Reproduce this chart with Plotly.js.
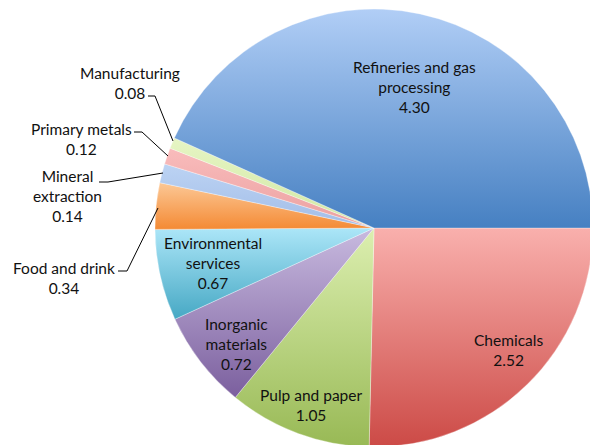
<!DOCTYPE html>
<html>
<head>
<meta charset="utf-8">
<script src="https://cdn.plot.ly/plotly-3.0.1.min.js"></script>
<style>
  html, body { margin: 0; padding: 0; overflow: hidden; background: #fff; }
  #chart { width: 600px; height: 460px; }
</style>
</head>
<body>
<div id="chart"></div>
<script>
// ---- data ----
var categories = ["Chemicals", "Pulp and paper", "Inorganic materials", "Environmental services",
                  "Food and drink", "Mineral extraction", "Primary metals", "Manufacturing",
                  "Refineries and gas processing"];
var values = [2.52, 1.05, 0.72, 0.67, 0.34, 0.14, 0.12, 0.08, 4.30];
var displayLabels = ["Chemicals", "Pulp and paper", "Inorganic<br>materials", "Environmental<br>services",
                     "Food and drink", "Mineral<br>extraction", "Primary metals", "Manufacturing",
                     "Refineries and gas<br>processing"];

// ---- styles ----
var gradTop = ["#f9b0ad", "#dcefb0", "#c8badf", "#ace6f8", "#fcc896", "#bcd3f3", "#f9bcbc", "#e6f5c4", "#b1cef6"];
var gradBot = ["#cc4a46", "#98b955", "#7b5f9e", "#46a8c4", "#f48a34", "#a2bde8", "#eba0a0", "#d2e8a4", "#4680c2"];
var flat    = ["#e57d7a", "#bad583", "#a18dbf", "#79c7de", "#f8a965", "#b0c9ef", "#f3b0b0", "#dcefb4", "#7ca7dc"];

var W = 600, H = 460;
var M = {l: 155, r: 7, t: 9, b: 13};
var PW = W - M.l - M.r, PH = H - M.t - M.b;
function px(x) { return (x - M.l) / PW; }
function py(y) { return 1 - (y - M.t) / PH; }

// label positions in pixels (centre of text block)
var labelPos = [[508, 350], [311, 405], [236, 344], [213, 263], [64, 278], [67, 196], [81, 139], [130, 83], [414, 87]];
// leader lines (pixel polylines) for outside labels
var leaders = {
  4: [[118, 271], [127, 271], [158, 208]],
  5: [[99, 182], [108, 182], [163, 173]],
  6: [[134, 132], [142, 132], [168, 156]],
  7: [[148, 96], [155, 96], [173, 141]]
};

var annotations = categories.map(function (c, i) {
  return {
    xref: "paper", yref: "paper",
    x: px(labelPos[i][0]), y: py(labelPos[i][1]),
    xanchor: "center", yanchor: "middle",
    text: displayLabels[i] + "<br>" + values[i].toFixed(2),
    showarrow: false, align: "center",
    font: {family: "Lato, 'Open Sans', sans-serif", size: 15.5, color: "#111"}
  };
});

var shapes = Object.keys(leaders).map(function (k) {
  var pts = leaders[k];
  var d = pts.map(function (p, j) { return (j ? "L" : "M") + px(p[0]) + "," + py(p[1]); }).join(" ");
  return {type: "path", xref: "paper", yref: "paper", path: d, line: {color: "#000", width: 1}};
});

var trace = {
  type: "pie",
  labels: categories,
  values: values,
  sort: false,
  direction: "clockwise",
  rotation: 90,
  textinfo: "none",
  hoverinfo: "label+value",
  marker: {colors: flat, line: {color: "rgba(255,255,255,0.55)", width: 0.6}},
  showlegend: false
};

var layout = {
  width: W, height: H,
  margin: M,
  paper_bgcolor: "#fff",
  showlegend: false,
  annotations: annotations,
  shapes: shapes
};

Plotly.newPlot("chart", [trace], layout, {displayModeBar: false, staticPlot: true}).then(function (gd) {
  // vertical gradient fills like the original
  var svg = gd.querySelector(".main-svg");
  var ns = "http://www.w3.org/2000/svg";
  var defs = svg.querySelector("defs") || svg.insertBefore(document.createElementNS(ns, "defs"), svg.firstChild);
  var slices = gd.querySelectorAll("g.slice");
  slices.forEach(function (g, k) {
    var i = (g.__data__ && g.__data__.i !== undefined) ? g.__data__.i : k;
    var lg = document.createElementNS(ns, "linearGradient");
    lg.setAttribute("id", "sg" + i);
    lg.setAttribute("x1", "0"); lg.setAttribute("y1", "0");
    lg.setAttribute("x2", "0"); lg.setAttribute("y2", "1");
    var s1 = document.createElementNS(ns, "stop");
    s1.setAttribute("offset", "0"); s1.setAttribute("stop-color", gradTop[i]);
    var s2 = document.createElementNS(ns, "stop");
    s2.setAttribute("offset", "1"); s2.setAttribute("stop-color", gradBot[i]);
    lg.appendChild(s1); lg.appendChild(s2);
    defs.appendChild(lg);
    var path = g.querySelector("path.surface");
    if (path) path.style.fill = "url(#sg" + i + ")";
  });
});
</script>
</body>
</html>
